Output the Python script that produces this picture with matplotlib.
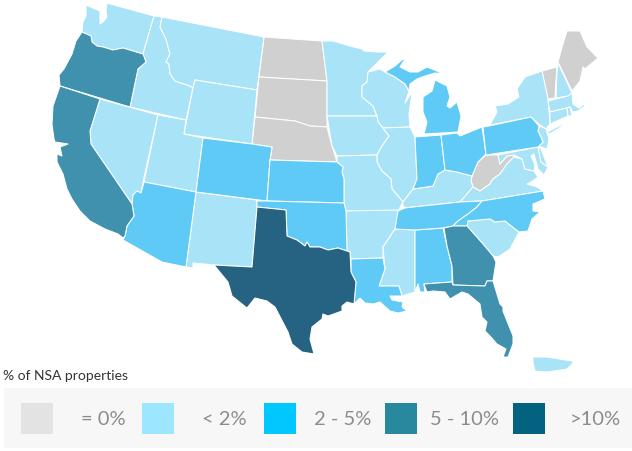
import matplotlib
matplotlib.use("Agg")
import matplotlib.pyplot as plt
from matplotlib.patches import Polygon, Rectangle

plt.rcParams['font.family'] = ['Lato', 'DejaVu Sans']

# bins: 0 is "= 0%", 4 is ">10%"
legend_labels = ['= 0%', '< 2%', '2 - 5%', '5 - 10%', '>10%']
legend_colors = ['#e3e3e3', '#9ce6ff', '#00c8ff', '#28889e', '#02627f']
map_colors = ['#d0d0d0', '#a8e3f7', '#5ecaf5', '#3f91ae', '#266282']
legend_title = '% of NSA properties'

zero_states = ['ND', 'SD', 'NE', 'WV', 'VT', 'ME']
under2_states = ['WA', 'ID', 'MT', 'WY', 'NV', 'UT', 'NM', 'MN', 'WI', 'IA', 'IL', 'MO', 'AR', 'MS',
                 'KY', 'VA', 'SC', 'NY', 'NH', 'MA', 'CT', 'RI', 'NJ', 'MD', 'DE', 'LI', 'PR']
mid_states = ['CO', 'AZ', 'KS', 'OK', 'LA', 'AL', 'TN', 'NC', 'IN', 'OH', 'PA', 'MI', 'UP']
high_states = ['OR', 'CA', 'GA', 'FL']
top_states = ['TX']

outlines = {
    'WA': [(86,6),(93,9),(100,12),(100,25),(103,23),(107,18),(106,12),(107,4),(154,17),(143,55),(133,52),(123,49),(113,51),(103,48),(97,47),(92,43),(91,37),(82,33),(83,23),(86,17)],
    'OR': [(82,33),(91,37),(92,43),(97,47),(103,48),(113,51),(123,49),(133,52),(143,55),(146,63),(138,70),(130,108),(60,87),(59,76),(64,70),(72,55),(76,42)],
    'CA': [(60,87),(100,100),(90,132),(91,145),(132,205),(134,217),(127,227),(125,237),(123,239),(118,235),(105,230),(90,222),(80,212),(72,200),(67,190),(63,175),(57,163),(57,155),(62,157),(60,148),(68,145),(55,143),(54,140),(52,125),(53,107)],
    'NV': [(100,100),(158,116),(143,183),(141,194),(137,192),(133,196),(132,205),(91,145),(90,132)],
    'AZ': [(144,183),(196,193),(186,268),(162,263),(123,241),(125,237),(127,227),(134,217),(132,205),(133,196),(137,192),(141,194)],
    'UT': [(158,116),(186,121),(184,135),(203,139),(196,193),(144,183)],
    'ID': [(154,17),(162,18),(160,28),(166,40),(170,55),(166,63),(169,65),(170,75),(175,82),(190,87),(193,89),(186,121),(130,108),(138,70),(146,63),(143,55)],
    'MT': [(162,18),(264,38),(257,91),(195,81),(193,89),(190,87),(175,82),(170,75),(169,65),(166,63),(170,55),(166,40),(160,28)],
    'WY': [(195,81),(257,91),(252,145),(184,135),(193,89)],
    'CO': [(203,139),(252,145),(272,148),(270,161),(267,202),(196,193)],
    'NM': [(196,193),(257,201),(257,208),(252,268),(214,266),(193,264),(193,269),(186,268)],
    'TX': [(257,208),(286,211),(287,237),(297,241),(305,247),(307,243),(310,248),(320,248),(328,251),(338,249),(350,253),(351,273),(356,283),(354,305),(347,303),(342,307),(342,312),(328,317),(323,315),(322,320),(312,328),(310,340),(314,355),(302,353),(292,345),(288,333),(275,308),(267,302),(255,299),(247,309),(232,297),(228,283),(214,266),(252,268)],
    'OK': [(257,202),(267,202),(344,204),(346,212),(347,252),(350,253),(338,249),(328,251),(320,248),(310,248),(307,243),(305,247),(297,241),(287,237),(286,211),(257,208)],
    'KS': [(270,161),(337,163),(343,168),(342,173),(344,180),(344,204),(267,202)],
    'NE': [(255,118),(295,122),(310,127),(327,128),(332,147),(337,163),(270,161),(272,148),(252,145)],
    'SD': [(259,78),(327,82),(327,128),(310,127),(295,122),(255,118)],
    'ND': [(264,38),(322,42),(327,82),(259,78)],
    'MN': [(322,42),(333,42),(350,47),(362,50),(364,52),(377,53),(388,53),(368,73),(367,83),(362,87),(362,98),(373,107),(377,117),(327,117),(327,82)],
    'WI': [(368,73),(380,70),(385,73),(395,78),(405,85),(409,92),(405,104),(412,93),(409,115),(410,128),(383,129),(378,123),(377,117),(373,107),(362,98),(362,87),(367,83)],
    'UP': [(385,73),(395,67),(403,60),(405,60),(400,68),(410,73),(418,73),(427,68),(437,72),(442,75),(435,74),(425,77),(417,80),(410,85),(409,92),(405,85),(395,78)],
    'MI': [(424,135),(458,133),(461,117),(457,103),(450,109),(447,107),(450,98),(447,87),(435,81),(432,92),(423,98),(423,113),(427,123)],
    'IA': [(327,117),(377,117),(378,123),(383,129),(389,137),(382,147),(377,156),(337,157),(332,147)],
    'IL': [(383,129),(410,128),(415,138),(417,180),(413,190),(403,203),(398,197),(392,190),(391,180),(382,172),(377,163),(377,156),(382,147),(389,137)],
    'IN': [(415,138),(441,136),(445,171),(438,175),(433,187),(420,189),(413,190),(417,180)],
    'OH': [(441,136),(457,134),(460,137),(482,128),(486,155),(478,163),(472,177),(457,173),(445,171)],
    'PA': [(483,128),(489,127),(531,118),(539,127),(538,132),(543,143),(538,148),(486,156)],
    'NY': [(490,126),(497,113),(495,107),(508,105),(519,98),(517,90),(525,78),(542,72),(548,100),(550,125),(546,130),(540,126),(531,118)],
    'LI': [(547,133),(567,123),(558,130),(549,135)],
    'NJ': [(540,127),(546,130),(549,140),(547,150),(538,147),(543,143),(538,132)],
    'VT': [(542,72),(557,68),(556,80),(555,99),(548,100)],
    'NH': [(558,64),(572,94),(568,97),(556,99),(557,73)],
    'ME': [(558,63),(563,45),(567,32),(580,32),(587,48),(598,59),(585,70),(583,68),(580,82),(572,92)],
    'MA': [(548,102),(568,97),(572,94),(573,105),(579,109),(584,105),(585,107),(578,112),(573,113),(570,108),(550,113)],
    'CT': [(550,113),(567,109),(568,117),(550,125)],
    'RI': [(567,109),(570,108),(572,117),(568,117)],
    'MD': [(498,156),(538,148),(541,163),(548,168),(544,176),(538,170),(534,155),(531,157),(535,166),(534,172),(525,170),(522,160),(514,156),(507,157),(500,165)],
    'DE': [(538,148),(541,150),(548,168),(541,163)],
    'WV': [(472,177),(478,163),(486,156),(498,156),(500,165),(507,157),(514,156),(514,158),(507,165),(500,175),(493,180),(490,185),(480,192),(473,188),(471,182)],
    'VA': [(460,203),(473,188),(480,192),(490,185),(493,180),(500,175),(507,165),(514,158),(522,160),(525,170),(534,172),(538,178),(531,183),(527,185),(537,188),(543,192),(482,202)],
    'KY': [(413,190),(420,189),(433,187),(438,175),(445,171),(457,173),(472,177),(471,182),(473,188),(460,203),(413,208),(405,209),(402,205),(403,203)],
    'TN': [(398,212),(405,209),(413,208),(460,203),(482,202),(477,208),(468,215),(458,222),(453,227),(443,229),(415,231),(395,230)],
    'NC': [(482,202),(543,192),(545,200),(533,205),(533,212),(540,213),(532,220),(528,232),(519,233),(505,222),(495,223),(490,220),(468,222),(467,227),(453,227),(458,222),(468,215),(477,208)],
    'SC': [(468,222),(490,220),(495,223),(505,222),(519,233),(510,250),(498,258),(493,257),(483,245),(467,227)],
    'GA': [(444,229),(453,227),(467,227),(483,245),(493,257),(496,263),(493,282),(487,282),(485,287),(453,286),(452,267),(447,247)],
    'FL': [(424,285),(452,283),(453,286),(485,287),(487,282),(493,282),(500,305),(503,308),(503,312),(513,337),(513,345),(508,358),(503,358),(506,350),(497,345),(490,337),(485,332),(487,323),(482,318),(480,305),(468,295),(462,293),(450,300),(445,293),(433,292),(427,293),(425,288)],
    'AL': [(415,231),(443,229),(447,247),(452,267),(452,283),(424,285),(425,293),(420,293),(418,285),(415,293)],
    'MS': [(395,230),(415,231),(415,293),(402,297),(399,287),(379,287),(385,270),(383,248)],
    'LA': [(351,260),(383,259),(385,270),(379,287),(399,287),(402,297),(390,297),(392,301),(403,303),(402,308),(407,312),(398,314),(390,312),(380,303),(373,305),(365,304),(360,299),(354,305),(356,283),(351,273)],
    'AR': [(346,212),(398,211),(397,223),(395,230),(383,248),(383,259),(351,260),(350,253),(347,252)],
    'MO': [(337,157),(377,156),(377,163),(382,172),(391,180),(392,190),(398,197),(403,203),(402,205),(398,212),(346,212),(344,204),(344,180),(342,173),(343,168),(337,163)],
    'PR': [(533,358),(547,358),(572,362),(573,364),(567,370),(547,373),(535,372),(533,363)],
}

fig = plt.figure(figsize=(6.32, 4.52), dpi=100, facecolor='w')
ax = fig.add_axes([0, 0, 1, 1])
ax.set_xlim(0, 632)
ax.set_ylim(452, 0)
ax.axis('off')

state_groups = [zero_states, under2_states, mid_states, high_states, top_states]
for bin_idx, group in enumerate(state_groups):
    for st in group:
        ax.add_patch(Polygon(outlines[st], closed=True, facecolor=map_colors[bin_idx],
                             edgecolor='white', linewidth=0.75, joinstyle='round'))

# legend strip
ax.add_patch(Rectangle((4, 389), 628, 60, facecolor='#f7f7f7', edgecolor='none'))
ax.text(3, 376.5, legend_title, fontsize=10, color='#333333', va='center', ha='left')

swatch_x = [21, 142, 264, 385, 513]
label_right = [126, 247, 371, 499, 621]
for i, lab in enumerate(legend_labels):
    ax.add_patch(Rectangle((swatch_x[i], 404), 32, 31, facecolor=legend_colors[i], edgecolor='none'))
    ax.text(label_right[i], 420, lab, fontsize=14.5, color='#8c8c8c', va='center', ha='right')

fig.savefig('out.png', dpi=100)
